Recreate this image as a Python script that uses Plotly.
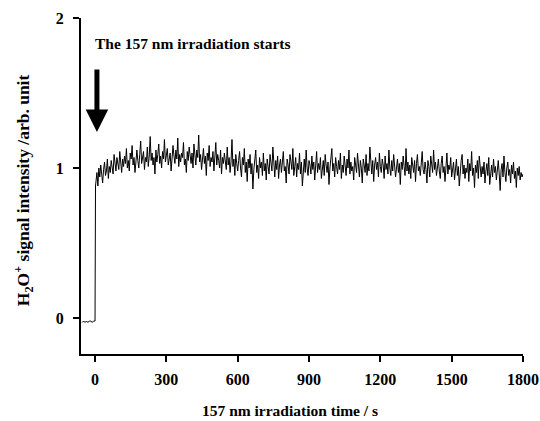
import plotly.graph_objects as go

pre_x = [-54, -48, -42, -36, -30, -24, -18, -12, -6, 0]
pre_y = [-0.03, -0.02, -0.03, -0.02, -0.03, -0.02, -0.02, -0.03, -0.02, -0.02]

jump_x = [2]
jump_y = [0.88]

step = 4
signal = [
    0.91, 0.97, 0.88, 1.00, 0.94, 1.02, 0.96, 0.90, 0.99, 1.04, 0.95, 0.98, 1.06, 0.93, 1.01,
    0.97, 1.05, 1.00, 0.96, 1.09, 1.02, 0.98, 1.07, 1.03, 0.99, 1.11, 1.04, 0.97, 1.06, 1.01,
    1.08, 1.03, 1.13, 1.00, 1.05, 0.98, 1.10, 1.06, 1.15, 1.02, 1.07, 0.97, 1.04, 1.12, 1.05,
    1.00, 1.09, 1.18, 1.03, 1.06, 1.11, 0.99, 1.07, 1.04, 1.14, 1.01, 1.08, 1.21, 1.05, 1.10,
    1.02, 1.07, 0.96, 1.12, 1.04, 1.09, 1.16, 1.03, 1.08, 1.00, 1.11, 1.06, 1.19, 1.04, 1.09,
    1.13, 1.02, 1.07, 1.10, 0.98, 1.05, 1.15, 1.08, 1.03, 1.12, 1.06, 1.20, 1.01, 1.09, 1.04,
    1.10, 1.07, 1.17, 1.02, 1.06, 0.97, 1.11, 1.05, 1.14, 1.08, 1.03, 1.10, 1.00, 1.16, 1.06,
    1.02, 1.12, 1.07, 1.22, 1.04, 1.09, 0.99, 1.06, 1.13, 1.03, 1.08, 0.95, 1.10, 1.05, 1.15,
    1.01, 1.07, 1.04, 1.11, 0.98, 1.06, 1.17, 1.02, 1.09, 1.05, 1.00, 1.12, 0.96, 1.07, 1.03,
    1.10, 1.05, 0.99, 1.14, 1.02, 1.07, 0.97, 1.04, 1.19, 1.01, 1.06, 0.95, 1.09, 1.03, 0.98,
    1.05, 1.11, 1.00, 0.94, 1.07, 1.02, 1.13, 0.97, 1.04, 0.91, 1.06, 1.00, 1.09, 0.96, 1.03,
    0.86, 0.99, 1.05, 1.12, 0.97, 1.02, 0.93, 1.07, 1.00, 1.04, 0.95, 1.10, 0.98, 1.03, 0.92,
    1.06, 1.01, 0.96, 1.09, 1.03, 0.98, 1.14, 1.00, 0.94, 1.05, 0.99, 1.08, 0.93, 1.02, 1.06,
    0.97, 1.04, 1.11, 0.98, 1.01, 0.90, 1.06, 1.02, 0.96, 1.09, 1.03, 0.99, 1.13, 0.95, 1.01,
    1.07, 0.94, 1.03, 0.99, 1.10, 0.96, 1.04, 0.88, 1.01, 1.06, 0.97, 1.12, 1.00, 0.95, 1.05,
    1.02, 0.96, 1.08, 0.99, 1.04, 0.92, 1.06, 1.11, 0.97, 1.03, 0.99, 1.07, 0.93, 1.01, 1.05,
    0.95, 1.09, 1.02, 0.97, 1.04, 0.89, 1.00, 1.06, 1.13, 0.98, 1.03, 0.94, 1.07, 1.01, 0.96,
    1.05, 0.99, 1.10, 0.93, 1.02, 0.97, 1.08, 1.03, 0.95, 1.06, 1.00, 1.12, 0.96, 1.04, 0.98,
    1.01, 0.92, 1.07, 1.03, 0.97, 1.10, 0.99, 0.94, 1.05, 1.00, 0.90, 1.06, 1.02, 0.97, 1.09,
    0.95, 1.03, 0.98, 1.14, 1.00, 0.96, 1.05, 0.91, 1.02, 1.07, 0.99, 1.04, 0.94, 1.10, 1.01,
    0.97, 1.06, 1.02, 0.93, 1.08, 0.99, 1.03, 0.96, 1.12, 1.00, 0.95, 1.05, 0.98, 1.09, 1.02,
    0.94, 1.00, 1.06, 0.97, 1.03, 0.89, 1.04, 0.99, 1.08, 1.01, 0.95, 1.13, 0.98, 1.04, 0.96,
    1.02, 0.93, 1.07, 1.00, 0.97, 1.05, 0.91, 1.03, 1.09, 0.98, 1.01, 0.95, 1.06, 1.11, 0.99,
    0.96, 1.04, 0.99, 0.90, 1.05, 1.01, 0.94, 1.08, 1.02, 0.97, 1.12, 0.99, 1.04, 0.95, 1.00,
    1.06, 0.98, 0.93, 1.03, 1.08, 0.97, 1.01, 0.91, 1.05, 1.10, 0.96, 1.02, 0.99, 1.07, 0.94,
    1.00, 1.04, 0.92, 0.98, 1.06, 0.95, 1.01, 0.88, 0.99, 1.05, 1.09, 0.96, 1.02, 0.93, 1.00,
    0.97, 1.06, 0.91, 1.03, 0.98, 1.11, 0.95, 1.00, 0.87, 1.02, 0.97, 1.05, 0.93, 1.08, 0.99,
    0.94, 1.01, 0.96, 1.04, 0.90, 0.98, 1.03, 0.95, 1.07, 0.89, 0.99, 1.02, 0.94, 1.06, 0.97,
    1.01, 0.92, 0.98, 1.05, 0.96, 0.85, 0.99, 1.03, 0.94, 1.08, 0.97, 0.91, 1.00, 1.04, 0.95,
    0.99, 0.90, 1.02, 0.96, 1.04, 0.93, 0.98, 0.87, 1.00, 0.95, 1.01, 0.92, 0.97, 0.94, 0.96,
]
sig_x = [step * (i + 1) for i in range(len(signal))]

x_all = pre_x + jump_x + sig_x
y_all = pre_y + jump_y + signal

x_ticks = [0, 300, 600, 900, 1200, 1500, 1800]
y_ticks = [0, 1, 2]

FONT = "Liberation Serif"

fig = go.Figure()
fig.add_trace(go.Scatter(x=x_all, y=y_all, mode="lines",
                         line=dict(color="#000000", width=1), showlegend=False))

fig.update_layout(
    width=540, height=421,
    margin=dict(l=81, r=17, t=18, b=67),
    paper_bgcolor="white", plot_bgcolor="white",
    font=dict(family=FONT, size=16, color="black", weight="bold"),
    xaxis=dict(range=[-59, 1800], tickvals=x_ticks, showline=True, linecolor="black",
               linewidth=2, ticks="outside", ticklen=6, tickwidth=2, tickcolor="black",
               showgrid=False, zeroline=False, automargin=False, ticklabelstandoff=4,
               tickfont=dict(family=FONT, size=16, weight="bold")),
    yaxis=dict(range=[-0.24, 2.0], tickvals=y_ticks, showline=True, linecolor="black",
               linewidth=2, ticks="outside", ticklen=6, tickwidth=2, tickcolor="black",
               showgrid=False, zeroline=False, automargin=False, ticklabelstandoff=6,
               tickfont=dict(family=FONT, size=16, weight="bold")),
)

# axis titles
fig.add_annotation(x=0.473, y=-0.167, xref="paper", yref="paper",
                   text="157 nm irradiation time / s", showarrow=False,
                   xanchor="center", yanchor="middle",
                   font=dict(family=FONT, size=15.5, weight="bold"))
fig.add_annotation(x=-0.131, y=0.488, xref="paper", yref="paper",
                   text="H<sub>2</sub>O<sup>+</sup> signal intensity /arb. unit", showarrow=False,
                   textangle=-90, xanchor="center", yanchor="middle",
                   font=dict(family=FONT, size=17.5, weight="bold"))

fig.add_annotation(x=-7, y=1.83, xref="x", yref="y", text="The 157 nm irradiation starts",
                   showarrow=False, xanchor="left", yanchor="middle",
                   font=dict(family=FONT, size=15.5, weight="bold"))
fig.add_annotation(x=8, y=1.24, xref="x", yref="y", ax=0, ay=-64, text="",
                   showarrow=True, arrowhead=2, arrowsize=0.9, arrowwidth=5, arrowcolor="black",
                   standoff=0)

fig.write_html("out.html")
